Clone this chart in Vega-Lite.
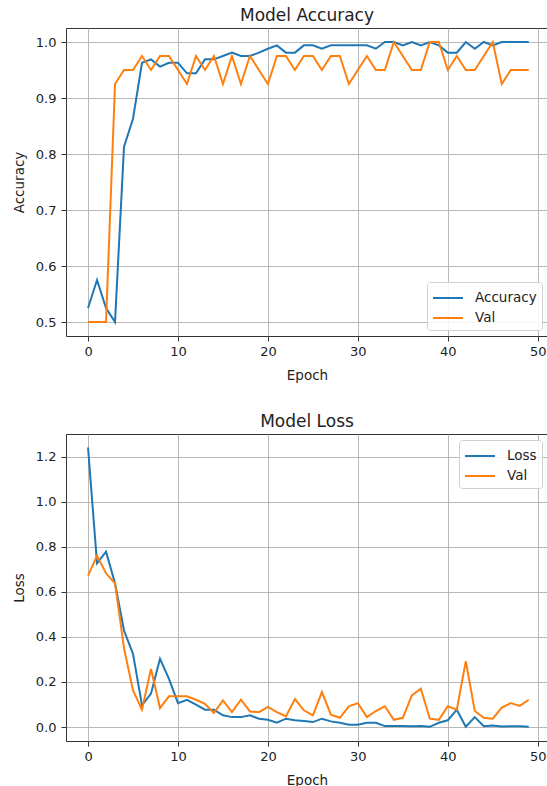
{
  "$schema": "https://vega.github.io/schema/vega-lite/v6.json",
  "autosize": {"type": "pad"},
  "padding": {"left": 11, "top": 6, "right": 0, "bottom": 0},
  "background": "white",
  "config": {
    "font": "DejaVu Sans",
    "view": {"stroke": "#333", "strokeWidth": 1},
    "axis": {
      "domain": false,
      "tickColor": "#333",
      "tickSize": 5,
      "tickWidth": 1,
      "labelFontSize": 13,
      "labelColor": "#222",
      "labelPadding": 4.5,
      "titleFontSize": 13.5,
      "titleFontWeight": "normal",
      "titleColor": "#222",
      "gridColor": "#b0b0b0",
      "gridWidth": 1,
      "gridOpacity": 0.9
    },
    "axisY": {"titlePadding": 9, "labelPadding": 5},
    "axisX": {"titlePadding": 10},
    "title": {"fontSize": 17, "fontWeight": "normal", "color": "#222", "baseline": "alphabetic", "offset": 3.5},
    "legend": {
      "title": null,
      "symbolType": "M-1,0H2",
      "symbolSize": 400,
      "symbolStrokeWidth": 2,
      "labelFontSize": 13.5,
      "labelColor": "#222",
      "padding": 5,
      "rowPadding": 2,
      "labelOffset": 21,
      "fillColor": "rgba(255,255,255,0.85)",
      "strokeColor": "#d0d0d0",
      "cornerRadius": 3,
      "offset": 6
    }
  },
  "datasets": {
    "acc": [
      {"epoch": 0, "series": "Accuracy", "value": 0.525},
      {"epoch": 1, "series": "Accuracy", "value": 0.575},
      {"epoch": 2, "series": "Accuracy", "value": 0.525},
      {"epoch": 3, "series": "Accuracy", "value": 0.5},
      {"epoch": 4, "series": "Accuracy", "value": 0.813},
      {"epoch": 5, "series": "Accuracy", "value": 0.863},
      {"epoch": 6, "series": "Accuracy", "value": 0.963},
      {"epoch": 7, "series": "Accuracy", "value": 0.969},
      {"epoch": 8, "series": "Accuracy", "value": 0.956},
      {"epoch": 9, "series": "Accuracy", "value": 0.963},
      {"epoch": 10, "series": "Accuracy", "value": 0.963},
      {"epoch": 11, "series": "Accuracy", "value": 0.944},
      {"epoch": 12, "series": "Accuracy", "value": 0.944},
      {"epoch": 13, "series": "Accuracy", "value": 0.969},
      {"epoch": 14, "series": "Accuracy", "value": 0.969},
      {"epoch": 15, "series": "Accuracy", "value": 0.975},
      {"epoch": 16, "series": "Accuracy", "value": 0.981},
      {"epoch": 17, "series": "Accuracy", "value": 0.975},
      {"epoch": 18, "series": "Accuracy", "value": 0.975},
      {"epoch": 19, "series": "Accuracy", "value": 0.981},
      {"epoch": 20, "series": "Accuracy", "value": 0.988},
      {"epoch": 21, "series": "Accuracy", "value": 0.994},
      {"epoch": 22, "series": "Accuracy", "value": 0.981},
      {"epoch": 23, "series": "Accuracy", "value": 0.981},
      {"epoch": 24, "series": "Accuracy", "value": 0.994},
      {"epoch": 25, "series": "Accuracy", "value": 0.994},
      {"epoch": 26, "series": "Accuracy", "value": 0.988},
      {"epoch": 27, "series": "Accuracy", "value": 0.994},
      {"epoch": 28, "series": "Accuracy", "value": 0.994},
      {"epoch": 29, "series": "Accuracy", "value": 0.994},
      {"epoch": 30, "series": "Accuracy", "value": 0.994},
      {"epoch": 31, "series": "Accuracy", "value": 0.994},
      {"epoch": 32, "series": "Accuracy", "value": 0.988},
      {"epoch": 33, "series": "Accuracy", "value": 1.0},
      {"epoch": 34, "series": "Accuracy", "value": 1.0},
      {"epoch": 35, "series": "Accuracy", "value": 0.994},
      {"epoch": 36, "series": "Accuracy", "value": 1.0},
      {"epoch": 37, "series": "Accuracy", "value": 0.994},
      {"epoch": 38, "series": "Accuracy", "value": 1.0},
      {"epoch": 39, "series": "Accuracy", "value": 0.994},
      {"epoch": 40, "series": "Accuracy", "value": 0.981},
      {"epoch": 41, "series": "Accuracy", "value": 0.981},
      {"epoch": 42, "series": "Accuracy", "value": 1.0},
      {"epoch": 43, "series": "Accuracy", "value": 0.988},
      {"epoch": 44, "series": "Accuracy", "value": 1.0},
      {"epoch": 45, "series": "Accuracy", "value": 0.994},
      {"epoch": 46, "series": "Accuracy", "value": 1.0},
      {"epoch": 47, "series": "Accuracy", "value": 1.0},
      {"epoch": 48, "series": "Accuracy", "value": 1.0},
      {"epoch": 49, "series": "Accuracy", "value": 1.0},
      {"epoch": 0, "series": "Val", "value": 0.5},
      {"epoch": 1, "series": "Val", "value": 0.5},
      {"epoch": 2, "series": "Val", "value": 0.5},
      {"epoch": 3, "series": "Val", "value": 0.925},
      {"epoch": 4, "series": "Val", "value": 0.95},
      {"epoch": 5, "series": "Val", "value": 0.95},
      {"epoch": 6, "series": "Val", "value": 0.975},
      {"epoch": 7, "series": "Val", "value": 0.95},
      {"epoch": 8, "series": "Val", "value": 0.975},
      {"epoch": 9, "series": "Val", "value": 0.975},
      {"epoch": 10, "series": "Val", "value": 0.95},
      {"epoch": 11, "series": "Val", "value": 0.925},
      {"epoch": 12, "series": "Val", "value": 0.975},
      {"epoch": 13, "series": "Val", "value": 0.95},
      {"epoch": 14, "series": "Val", "value": 0.975},
      {"epoch": 15, "series": "Val", "value": 0.925},
      {"epoch": 16, "series": "Val", "value": 0.975},
      {"epoch": 17, "series": "Val", "value": 0.925},
      {"epoch": 18, "series": "Val", "value": 0.975},
      {"epoch": 19, "series": "Val", "value": 0.95},
      {"epoch": 20, "series": "Val", "value": 0.925},
      {"epoch": 21, "series": "Val", "value": 0.975},
      {"epoch": 22, "series": "Val", "value": 0.975},
      {"epoch": 23, "series": "Val", "value": 0.95},
      {"epoch": 24, "series": "Val", "value": 0.975},
      {"epoch": 25, "series": "Val", "value": 0.975},
      {"epoch": 26, "series": "Val", "value": 0.95},
      {"epoch": 27, "series": "Val", "value": 0.975},
      {"epoch": 28, "series": "Val", "value": 0.975},
      {"epoch": 29, "series": "Val", "value": 0.925},
      {"epoch": 30, "series": "Val", "value": 0.95},
      {"epoch": 31, "series": "Val", "value": 0.975},
      {"epoch": 32, "series": "Val", "value": 0.95},
      {"epoch": 33, "series": "Val", "value": 0.95},
      {"epoch": 34, "series": "Val", "value": 1.0},
      {"epoch": 35, "series": "Val", "value": 0.975},
      {"epoch": 36, "series": "Val", "value": 0.95},
      {"epoch": 37, "series": "Val", "value": 0.95},
      {"epoch": 38, "series": "Val", "value": 1.0},
      {"epoch": 39, "series": "Val", "value": 1.0},
      {"epoch": 40, "series": "Val", "value": 0.95},
      {"epoch": 41, "series": "Val", "value": 0.975},
      {"epoch": 42, "series": "Val", "value": 0.95},
      {"epoch": 43, "series": "Val", "value": 0.95},
      {"epoch": 44, "series": "Val", "value": 0.975},
      {"epoch": 45, "series": "Val", "value": 1.0},
      {"epoch": 46, "series": "Val", "value": 0.925},
      {"epoch": 47, "series": "Val", "value": 0.95},
      {"epoch": 48, "series": "Val", "value": 0.95},
      {"epoch": 49, "series": "Val", "value": 0.95}
    ],
    "loss": [
      {"epoch": 0, "series": "Loss", "value": 1.24},
      {"epoch": 1, "series": "Loss", "value": 0.726},
      {"epoch": 2, "series": "Loss", "value": 0.778},
      {"epoch": 3, "series": "Loss", "value": 0.638},
      {"epoch": 4, "series": "Loss", "value": 0.428},
      {"epoch": 5, "series": "Loss", "value": 0.325},
      {"epoch": 6, "series": "Loss", "value": 0.096},
      {"epoch": 7, "series": "Loss", "value": 0.148},
      {"epoch": 8, "series": "Loss", "value": 0.303},
      {"epoch": 9, "series": "Loss", "value": 0.214},
      {"epoch": 10, "series": "Loss", "value": 0.106},
      {"epoch": 11, "series": "Loss", "value": 0.121},
      {"epoch": 12, "series": "Loss", "value": 0.099},
      {"epoch": 13, "series": "Loss", "value": 0.077},
      {"epoch": 14, "series": "Loss", "value": 0.077},
      {"epoch": 15, "series": "Loss", "value": 0.052},
      {"epoch": 16, "series": "Loss", "value": 0.044},
      {"epoch": 17, "series": "Loss", "value": 0.044},
      {"epoch": 18, "series": "Loss", "value": 0.052},
      {"epoch": 19, "series": "Loss", "value": 0.037},
      {"epoch": 20, "series": "Loss", "value": 0.032},
      {"epoch": 21, "series": "Loss", "value": 0.019},
      {"epoch": 22, "series": "Loss", "value": 0.037},
      {"epoch": 23, "series": "Loss", "value": 0.03},
      {"epoch": 24, "series": "Loss", "value": 0.027},
      {"epoch": 25, "series": "Loss", "value": 0.022},
      {"epoch": 26, "series": "Loss", "value": 0.037},
      {"epoch": 27, "series": "Loss", "value": 0.025},
      {"epoch": 28, "series": "Loss", "value": 0.019},
      {"epoch": 29, "series": "Loss", "value": 0.01},
      {"epoch": 30, "series": "Loss", "value": 0.01},
      {"epoch": 31, "series": "Loss", "value": 0.019},
      {"epoch": 32, "series": "Loss", "value": 0.019},
      {"epoch": 33, "series": "Loss", "value": 0.004},
      {"epoch": 34, "series": "Loss", "value": 0.004},
      {"epoch": 35, "series": "Loss", "value": 0.004},
      {"epoch": 36, "series": "Loss", "value": 0.003},
      {"epoch": 37, "series": "Loss", "value": 0.004},
      {"epoch": 38, "series": "Loss", "value": 0.001},
      {"epoch": 39, "series": "Loss", "value": 0.019},
      {"epoch": 40, "series": "Loss", "value": 0.03},
      {"epoch": 41, "series": "Loss", "value": 0.077},
      {"epoch": 42, "series": "Loss", "value": 0.001},
      {"epoch": 43, "series": "Loss", "value": 0.044},
      {"epoch": 44, "series": "Loss", "value": 0.004},
      {"epoch": 45, "series": "Loss", "value": 0.007},
      {"epoch": 46, "series": "Loss", "value": 0.002},
      {"epoch": 47, "series": "Loss", "value": 0.003},
      {"epoch": 48, "series": "Loss", "value": 0.003},
      {"epoch": 49, "series": "Loss", "value": 0.001},
      {"epoch": 0, "series": "Val", "value": 0.672},
      {"epoch": 1, "series": "Val", "value": 0.76},
      {"epoch": 2, "series": "Val", "value": 0.682},
      {"epoch": 3, "series": "Val", "value": 0.638},
      {"epoch": 4, "series": "Val", "value": 0.35},
      {"epoch": 5, "series": "Val", "value": 0.162},
      {"epoch": 6, "series": "Val", "value": 0.077},
      {"epoch": 7, "series": "Val", "value": 0.258},
      {"epoch": 8, "series": "Val", "value": 0.084},
      {"epoch": 9, "series": "Val", "value": 0.136},
      {"epoch": 10, "series": "Val", "value": 0.136},
      {"epoch": 11, "series": "Val", "value": 0.136},
      {"epoch": 12, "series": "Val", "value": 0.121},
      {"epoch": 13, "series": "Val", "value": 0.103},
      {"epoch": 14, "series": "Val", "value": 0.062},
      {"epoch": 15, "series": "Val", "value": 0.118},
      {"epoch": 16, "series": "Val", "value": 0.066},
      {"epoch": 17, "series": "Val", "value": 0.121},
      {"epoch": 18, "series": "Val", "value": 0.069},
      {"epoch": 19, "series": "Val", "value": 0.066},
      {"epoch": 20, "series": "Val", "value": 0.089},
      {"epoch": 21, "series": "Val", "value": 0.066},
      {"epoch": 22, "series": "Val", "value": 0.047},
      {"epoch": 23, "series": "Val", "value": 0.124},
      {"epoch": 24, "series": "Val", "value": 0.074},
      {"epoch": 25, "series": "Val", "value": 0.052},
      {"epoch": 26, "series": "Val", "value": 0.155},
      {"epoch": 27, "series": "Val", "value": 0.055},
      {"epoch": 28, "series": "Val", "value": 0.041},
      {"epoch": 29, "series": "Val", "value": 0.092},
      {"epoch": 30, "series": "Val", "value": 0.106},
      {"epoch": 31, "series": "Val", "value": 0.044},
      {"epoch": 32, "series": "Val", "value": 0.071},
      {"epoch": 33, "series": "Val", "value": 0.092},
      {"epoch": 34, "series": "Val", "value": 0.032},
      {"epoch": 35, "series": "Val", "value": 0.041},
      {"epoch": 36, "series": "Val", "value": 0.14},
      {"epoch": 37, "series": "Val", "value": 0.17},
      {"epoch": 38, "series": "Val", "value": 0.037},
      {"epoch": 39, "series": "Val", "value": 0.032},
      {"epoch": 40, "series": "Val", "value": 0.092},
      {"epoch": 41, "series": "Val", "value": 0.077},
      {"epoch": 42, "series": "Val", "value": 0.292},
      {"epoch": 43, "series": "Val", "value": 0.071},
      {"epoch": 44, "series": "Val", "value": 0.041},
      {"epoch": 45, "series": "Val", "value": 0.037},
      {"epoch": 46, "series": "Val", "value": 0.086},
      {"epoch": 47, "series": "Val", "value": 0.106},
      {"epoch": 48, "series": "Val", "value": 0.094},
      {"epoch": 49, "series": "Val", "value": 0.121}
    ]
  },
  "bounds": "flush",
  "spacing": 98,
  "resolve": {
    "scale": {"x": "independent", "y": "independent", "color": "independent"},
    "axis": {"x": "independent", "y": "independent"},
    "legend": {"color": "independent"}
  },
  "vconcat": [
    {
      "width": 482,
      "height": 308,
      "title": {"text": "Model Accuracy"},
      "data": {"name": "acc"},
      "mark": {"type": "line", "strokeWidth": 2, "clip": true},
      "encoding": {
        "x": {
          "field": "epoch", "type": "quantitative",
          "scale": {"domain": [-2.45, 51.14], "nice": false, "zero": false},
          "axis": {"title": "Epoch", "values": [0, 10, 20, 30, 40, 50], "format": "d"}
        },
        "y": {
          "field": "value", "type": "quantitative",
          "scale": {"domain": [0.475, 1.025], "nice": false, "zero": false},
          "axis": {"title": "Accuracy", "values": [0.5, 0.6, 0.7, 0.8, 0.9, 1.0], "format": ".1f"}
        },
        "color": {
          "field": "series", "type": "nominal",
          "scale": {"domain": ["Accuracy", "Val"], "range": ["#1f77b4", "#ff7f0e"]},
          "legend": {"orient": "bottom-right"}
        }
      }
    },
    {
      "width": 482,
      "height": 307,
      "title": {"text": "Model Loss"},
      "data": {"name": "loss"},
      "mark": {"type": "line", "strokeWidth": 2, "clip": true},
      "encoding": {
        "x": {
          "field": "epoch", "type": "quantitative",
          "scale": {"domain": [-2.45, 51.14], "nice": false, "zero": false},
          "axis": {"title": "Epoch", "values": [0, 10, 20, 30, 40, 50], "format": "d"}
        },
        "y": {
          "field": "value", "type": "quantitative",
          "scale": {"domain": [-0.062, 1.3], "nice": false, "zero": false},
          "axis": {"title": "Loss", "values": [0, 0.2, 0.4, 0.6, 0.8, 1.0, 1.2], "format": ".1f"}
        },
        "color": {
          "field": "series", "type": "nominal",
          "scale": {"domain": ["Loss", "Val"], "range": ["#1f77b4", "#ff7f0e"]},
          "legend": {"orient": "top-right"}
        }
      }
    }
  ]
}
